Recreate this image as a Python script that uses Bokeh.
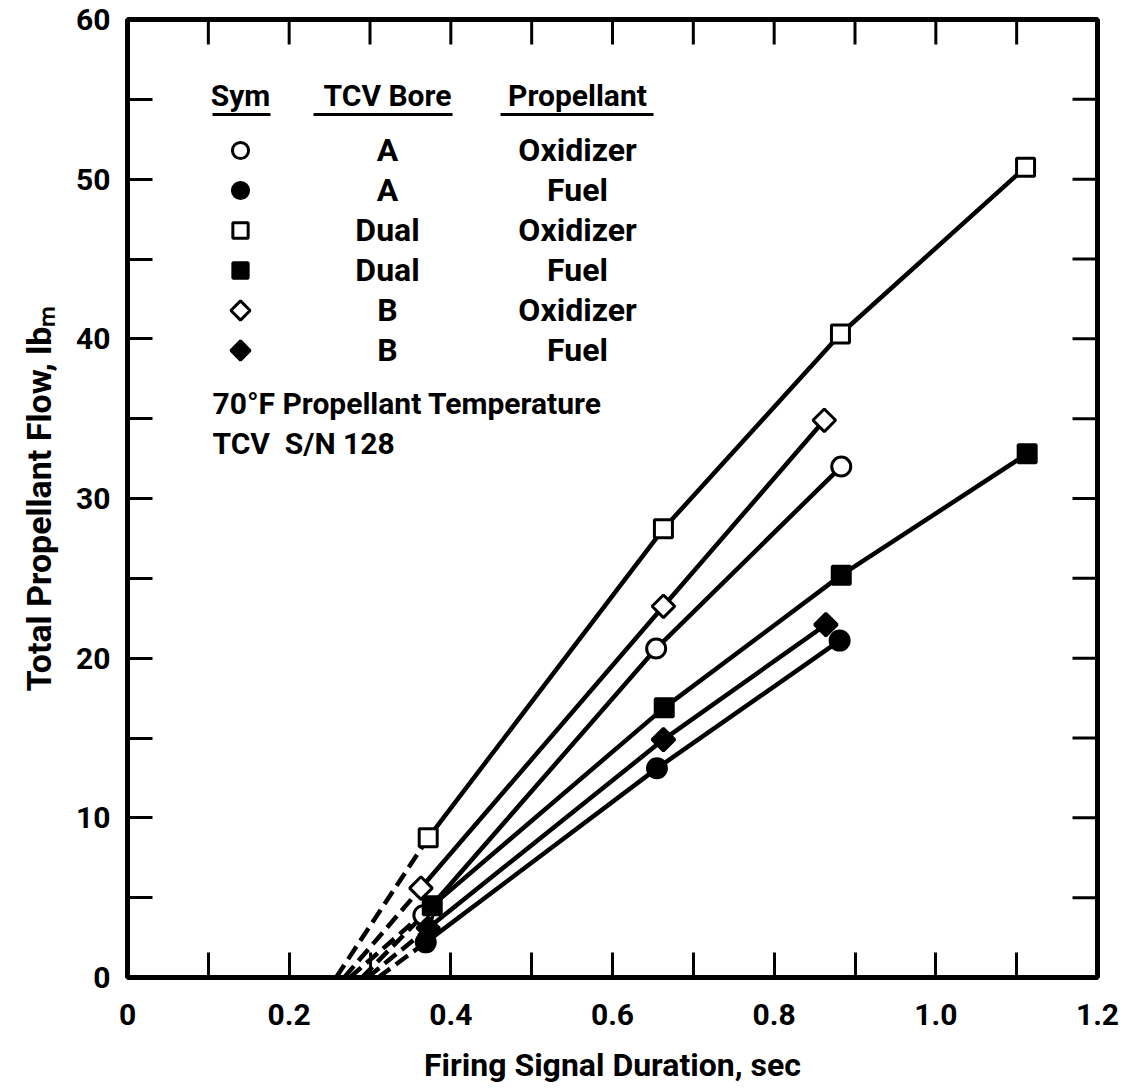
import math
from bokeh.plotting import figure
from bokeh.models import LinearAxis, FixedTicker, Range1d
from bokeh.embed import file_html
from bokeh.resources import INLINE
from bokeh.core.properties import value

FONT = "Roboto"

# ---------------- data ----------------
x_ticks = [0, 0.2, 0.4, 0.6, 0.8, 1.0, 1.2]
x_minor = [0.1, 0.3, 0.5, 0.7, 0.9, 1.1]
x_tick_labels = ["0", "0.2", "0.4", "0.6", "0.8", "1.0", "1.2"]
y_ticks = [0, 10, 20, 30, 40, 50, 60]
y_minor = [5, 15, 25, 35, 45, 55]

a_ox_x = [0.366, 0.654, 0.883]
a_ox_y = [3.9, 20.6, 32.0]
a_fuel_x = [0.369, 0.655, 0.881]
a_fuel_y = [2.2, 13.1, 21.1]
dual_ox_x = [0.372, 0.663, 0.882, 1.111]
dual_ox_y = [8.75, 28.1, 40.3, 50.75]
dual_fuel_x = [0.377, 0.664, 0.883, 1.113]
dual_fuel_y = [4.5, 16.9, 25.2, 32.8]
b_ox_x = [0.363, 0.663, 0.862]
b_ox_y = [5.6, 23.25, 34.9]
b_fuel_x = [0.372, 0.663, 0.864]
b_fuel_y = [3.1, 14.9, 22.1]

# where the dashed extrapolations reach zero flow
a_ox_zero = 0.290
a_fuel_zero = 0.310
dual_ox_zero = 0.258
dual_fuel_zero = 0.275
b_ox_zero = 0.268
b_fuel_zero = 0.297

legend_sym = ["circle", "circle", "square", "square", "diamond", "diamond"]
legend_filled = [False, True, False, True, False, True]
legend_bore = ["A", "A", "Dual", "Dual", "B", "B"]
legend_prop = ["Oxidizer", "Fuel", "Oxidizer", "Fuel", "Oxidizer", "Fuel"]
notes = ["70\u00b0F Propellant Temperature", "TCV\u00a0\u00a0S/N 128"]

# ---------------- layout ----------------
FL, FT, FW, FH = 127, 19, 970, 958   # frame in page pixels
XMAX, YMAX = 1.2, 60
BASE_SHIFT = 0.39   # em: rendered text sits this far below the requested baseline


def dx(px):
    return (px - FL) / FW * XMAX


def dy(py):
    return (FT + FH - py) / FH * YMAX


def dy_base(py, size):
    return dy(py - BASE_SHIFT * size)


p = figure(
    frame_width=FW, frame_height=FH,
    min_border_left=FL, min_border_top=FT,
    min_border_right=30, min_border_bottom=100,
    x_range=Range1d(0, XMAX), y_range=Range1d(0, YMAX),
    output_backend="svg", toolbar_location=None,
    x_axis_location=None, y_axis_location=None,
)
p.background_fill_color = "white"
p.border_fill_color = "white"
p.grid.visible = False
p.outline_line_color = "black"
p.outline_line_width = 5

TICK = 25


def make_axis(ticks, minor, labels):
    ax = LinearAxis(ticker=FixedTicker(ticks=ticks, minor_ticks=minor))
    ax.axis_line_color = None
    ax.major_tick_in = TICK
    ax.major_tick_out = 0
    ax.minor_tick_in = TICK
    ax.minor_tick_out = 0
    ax.major_tick_line_width = 3
    ax.minor_tick_line_width = 3
    ax.major_tick_line_color = "black"
    ax.minor_tick_line_color = "black"
    ax.major_label_overrides = {t: l for t, l in zip(ticks, labels)}
    ax.major_label_text_font = FONT
    ax.major_label_text_font_style = "bold"
    ax.major_label_text_font_size = "30px"
    ax.major_label_text_color = "black"
    ax.axis_label_text_font = FONT
    ax.axis_label_text_font_style = "bold"
    ax.axis_label_text_color = "black"
    return ax


xb = make_axis(x_ticks, x_minor, x_tick_labels)
xb.major_label_standoff = 26
xb.axis_label = "Firing Signal Duration, sec"
xb.axis_label_text_font_size = "32px"
xb.axis_label_standoff = 18
p.add_layout(xb, "below")

yl = make_axis(y_ticks, y_minor, [str(v) for v in y_ticks])
yl.major_label_standoff = 17
yl.axis_label = "Total Propellant Flow, lb\u2098"
yl.axis_label_text_font_size = "34px"
yl.axis_label_standoff = 14
p.add_layout(yl, "left")

# inward ticks on the top and right edges of the frame
tick_dy = TICK / FH * YMAX
tick_dx = TICK / FW * XMAX
top_x = x_ticks + x_minor
right_y = y_ticks + y_minor
p.segment(x0=top_x, x1=top_x, y0=[YMAX] * len(top_x),
          y1=[YMAX - tick_dy] * len(top_x), line_color="black", line_width=3)
p.segment(x0=[XMAX] * len(right_y), x1=[XMAX - tick_dx] * len(right_y),
          y0=right_y, y1=right_y, line_color="black", line_width=3)

# ---------------- series ----------------
series = [
    (dual_ox_x, dual_ox_y, dual_ox_zero, "square", False),
    (b_ox_x, b_ox_y, b_ox_zero, "diamond", False),
    (a_ox_x, a_ox_y, a_ox_zero, "circle", False),
    (dual_fuel_x, dual_fuel_y, dual_fuel_zero, "square", True),
    (b_fuel_x, b_fuel_y, b_fuel_zero, "diamond", True),
    (a_fuel_x, a_fuel_y, a_fuel_zero, "circle", True),
]

LW = 4.5
for xs, ys, x0, mk, filled in series:
    p.line([x0, xs[0]], [0, ys[0]], line_color="black", line_width=LW,
           line_dash="15 7")
    p.line(xs, ys, line_color="black", line_width=LW)


def draw_marker(xs, ys, mk, filled, scale=1.0):
    fill = "black" if filled else "white"
    if mk == "circle":
        p.scatter(xs, ys, marker="circle", size=19 * scale, fill_color=fill,
                  line_color="black", line_width=3)
    elif mk == "square":
        p.scatter(xs, ys, marker="square", size=18 * scale, fill_color=fill,
                  line_color="black", line_width=3)
    else:
        p.scatter(xs, ys, marker="square", angle=math.pi / 4, size=16 * scale,
                  fill_color=fill, line_color="black", line_width=3)


for xs, ys, x0, mk, filled in series:
    draw_marker(xs, ys, mk, filled)

# ---------------- legend block ----------------
ROW0, ROWSTEP = 162, 40
SYM_X, BORE_X, PROP_X = 240, 387, 577
HDR, ROWF, NOTEF = 30, 32, 30

hdr_base = 107
p.text([dx(SYM_X), dx(BORE_X), dx(PROP_X)], [dy_base(hdr_base, HDR)] * 3,
       text=["Sym", "TCV Bore", "Propellant"],
       text_font=value(FONT), text_font_style="bold", text_font_size=f"{HDR}px",
       text_align="center", text_baseline="alphabetic", text_color="black")
p.segment(x0=[dx(212), dx(313), dx(500)], x1=[dx(270), dx(452), dx(653)],
          y0=[dy(114)] * 3, y1=[dy(114)] * 3, line_color="black", line_width=3)

for i, (mk, filled) in enumerate(zip(legend_sym, legend_filled)):
    base = ROW0 + i * ROWSTEP
    draw_marker([dx(SYM_X)], [dy(base - 12)], mk, filled, scale=0.85)

rows_y = [dy_base(ROW0 + i * ROWSTEP, ROWF) for i in range(len(legend_bore))]
p.text([dx(BORE_X)] * len(legend_bore), rows_y, text=legend_bore,
       text_font=value(FONT), text_font_style="bold", text_font_size=f"{ROWF}px",
       text_align="center", text_baseline="alphabetic", text_color="black")
p.text([dx(PROP_X)] * len(legend_prop), rows_y, text=legend_prop,
       text_font=value(FONT), text_font_style="bold", text_font_size=f"{ROWF}px",
       text_align="center", text_baseline="alphabetic", text_color="black")

p.text([dx(212)] * 2, [dy_base(415, NOTEF), dy_base(455, NOTEF)], text=notes,
       text_font=value(FONT), text_font_style="bold", text_font_size=f"{NOTEF}px",
       text_align="left", text_baseline="alphabetic", text_color="black")

open("out.html", "w").write(file_html(p, INLINE))
